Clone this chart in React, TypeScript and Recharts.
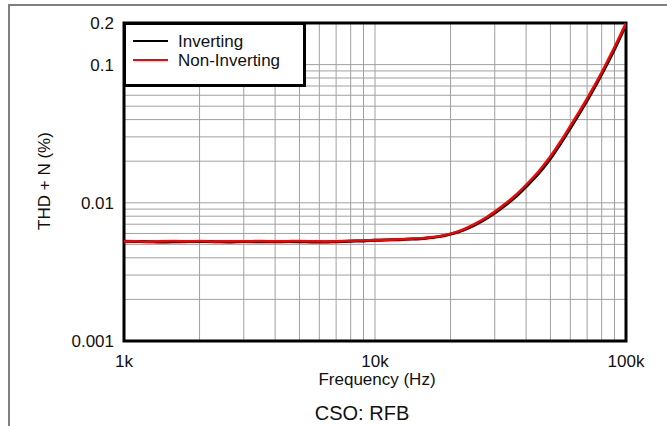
import {
  LineChart,
  Line,
  XAxis,
  YAxis,
  CartesianGrid,
  ReferenceArea,
  Legend,
} from "recharts";

/* ── data ───────────────────────────────────────────────────────── */

const freqs = [
  1000, 1100, 1250, 1400, 1600, 1800, 2000, 2300, 2600, 3000, 3500, 4000, 4500,
  5000, 5600, 6300, 7000, 8000, 9000, 10000, 11000, 12500, 14000, 16000, 18000,
  20000, 22500, 25000, 28000, 30000, 33000, 36000, 40000, 45000, 50000, 55000,
  60000, 65000, 70000, 75000, 80000, 85000, 90000, 95000, 100000,
];

const inverting = [
  0.00527, 0.00525, 0.00523, 0.0052, 0.00522, 0.00525, 0.00525, 0.00523,
  0.00521, 0.00524, 0.00523, 0.00522, 0.00524, 0.00523, 0.00521, 0.0052,
  0.00523, 0.00527, 0.0053, 0.00535, 0.00538, 0.00541, 0.00546, 0.00555,
  0.00569, 0.00593, 0.00635, 0.00693, 0.00778, 0.00843, 0.00958, 0.0109,
  0.0131, 0.0164, 0.0209, 0.027, 0.0347, 0.044, 0.055, 0.0685, 0.085, 0.105,
  0.129, 0.159, 0.195,
];

const nonInverting = [
  0.00525, 0.00527, 0.00523, 0.00527, 0.00529, 0.00527, 0.00529, 0.00525,
  0.00528, 0.00527, 0.00529, 0.00527, 0.00528, 0.00529, 0.00527, 0.00525,
  0.00527, 0.00531, 0.00534, 0.00537, 0.0054, 0.00544, 0.0055, 0.00559,
  0.00573, 0.00598, 0.00643, 0.00703, 0.00793, 0.00863, 0.00983, 0.0112,
  0.0135, 0.017, 0.0217, 0.028, 0.036, 0.0455, 0.057, 0.071, 0.088, 0.109,
  0.134, 0.164, 0.2,
];

const seriesNames = ["Inverting", "Non-Inverting"];
const seriesColors = ["#000000", "#ff0000"];

const xTicks = [1000, 10000, 100000];
const yTicks = [0.001, 0.01, 0.1, 0.2];

const xGrid = [
  2000, 3000, 4000, 5000, 6000, 7000, 8000, 9000, 10000, 20000, 30000, 40000,
  50000, 60000, 70000, 80000, 90000,
];
const yGrid = [
  0.002, 0.003, 0.004, 0.005, 0.006, 0.007, 0.008, 0.009, 0.01, 0.02, 0.03,
  0.04, 0.05, 0.06, 0.07, 0.08, 0.09, 0.1,
];

const data = freqs.map((f, i) => ({
  freq: f,
  inv: inverting[i],
  noninv: nonInverting[i],
}));

const FONT = "'Liberation Sans', Arial, sans-serif";

/* ── legend box ─────────────────────────────────────────────────── */

function LegendBox({ payload }: { payload?: any[] }) {
  return (
    <div
      style={{
        width: 170,
        height: 52,
        border: "3px solid #000",
        background: "#fff",
        padding: "7px 0 0 7px",
        boxSizing: "content-box",
        fontFamily: FONT,
        fontSize: 17,
        color: "#111",
      }}
    >
      {(payload || []).map((p, i) => (
        <div
          key={i}
          style={{ display: "flex", alignItems: "center", height: 19 }}
        >
          <span
            style={{
              width: 35,
              height: 2,
              background: p.color,
              marginRight: 10,
            }}
          />
          <span style={{ lineHeight: "19px" }}>{p.value}</span>
        </div>
      ))}
    </div>
  );
}

export default function App() {
  return (
    <div style={{ position: "relative", width: 667, height: 426 }}>
      <style>{`body{margin:0;background:#fff}`}</style>
      <LineChart
        width={667}
        height={426}
        data={data}
        margin={{ top: 23, right: 41, bottom: 0, left: 0 }}
      >
        <CartesianGrid
          stroke="#a0a0a0"
          strokeWidth={1}
          verticalValues={xGrid}
          horizontalValues={yGrid}
        />
        <XAxis
          dataKey="freq"
          type="number"
          scale="log"
          domain={[1000, 100000]}
          allowDataOverflow
          ticks={xTicks}
          interval={0}
          tickFormatter={(v: number) => `${v / 1000}k`}
          tick={{ fontSize: 17, fontFamily: FONT, fill: "#111" }}
          tickLine={false}
          tickSize={0}
          tickMargin={14}
          axisLine={false}
          height={85}
        />
        <YAxis
          type="number"
          scale="log"
          domain={[0.001, 0.2]}
          allowDataOverflow
          ticks={yTicks}
          interval={0}
          tickFormatter={(v: number) => String(v)}
          tick={{ fontSize: 17, fontFamily: FONT, fill: "#111" }}
          tickLine={false}
          tickSize={0}
          tickMargin={10}
          axisLine={false}
          width={124}
        />
        <ReferenceArea
          x1={1000}
          x2={100000}
          y1={0.001}
          y2={0.2}
          fill="none"
          stroke="#000"
          strokeWidth={3}
        />
        <Legend
          layout="horizontal"
          verticalAlign="middle"
          align="center"
          content={(props: any) => <LegendBox payload={props.payload} />}
          wrapperStyle={{ top: 21.5, left: 123, width: 176 }}
        />
        <Line
          dataKey="inv"
          name={seriesNames[0]}
          stroke={seriesColors[0]}
          strokeWidth={3}
          type="monotone"
          dot={false}
          activeDot={false}
          isAnimationActive={false}
        />
        <Line
          dataKey="noninv"
          name={seriesNames[1]}
          stroke={seriesColors[1]}
          strokeWidth={2.5}
          type="monotone"
          dot={false}
          activeDot={false}
          isAnimationActive={false}
        />
      </LineChart>
      <svg
        width={667}
        height={426}
        style={{ position: "absolute", left: 0, top: 0, pointerEvents: "none" }}
      >
        <path d="M9,426 V5 H667" fill="none" stroke="#808080" strokeWidth={2} />
        <text
          transform="translate(50,181) rotate(-90)"
          textAnchor="middle"
          fontFamily={FONT}
          fontSize={17}
          fill="#111"
        >
          THD + N (%)
        </text>
        <text
          x={377}
          y={385}
          textAnchor="middle"
          fontFamily={FONT}
          fontSize={17}
          fill="#111"
        >
          Frequency (Hz)
        </text>
        <text
          x={362}
          y={420}
          textAnchor="middle"
          fontFamily={FONT}
          fontSize={20}
          fill="#111"
        >
          CSO: RFB
        </text>
      </svg>
    </div>
  );
}
